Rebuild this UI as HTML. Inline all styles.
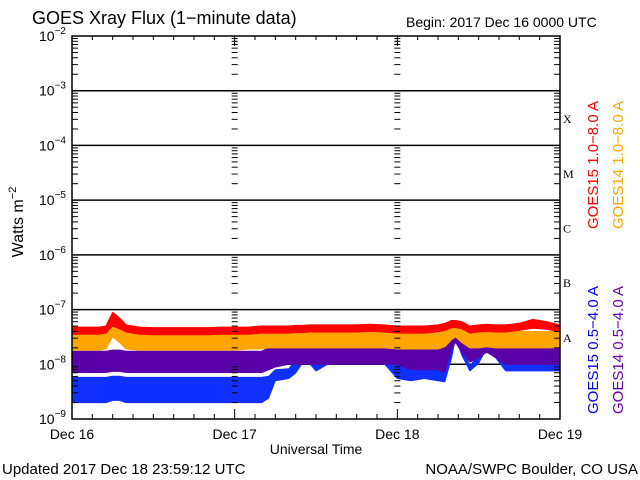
<!DOCTYPE html>
<html><head><meta charset="utf-8">
<style>
html,body{margin:0;padding:0;background:#fff;}
svg{display:block;font-family:"Liberation Sans",sans-serif;}
</style></head>
<body>
<svg id="chart" width="640" height="480" viewBox="0 0 640 480" xmlns="http://www.w3.org/2000/svg">
<rect width="640" height="480" fill="#fff"/>
<text x="32" y="24" font-size="18">GOES Xray Flux (1−minute data)</text>
<text x="406" y="27" font-size="14">Begin:  2017 Dec 16 0000 UTC</text>
<g id="grid"></g>
<g id="series"></g>
<g id="axes"></g>
<text transform="translate(23,222) rotate(-90)" text-anchor="middle" font-size="16">Watts m<tspan dy="-7" font-size="11">−2</tspan></text>
<text x="316" y="454" text-anchor="middle" font-size="14">Universal Time</text>
<text x="2" y="474" font-size="15">Updated 2017 Dec 18 23:59:12 UTC</text>
<text x="638" y="474" text-anchor="end" font-size="15">NOAA/SWPC Boulder, CO USA</text>
<text transform="translate(598,165) rotate(-90)" text-anchor="middle" font-size="15" fill="#ff0000">GOES15 1.0−8.0 A</text>
<text transform="translate(623,165) rotate(-90)" text-anchor="middle" font-size="15" fill="#ffa500">GOES14 1.0−8.0 A</text>
<text transform="translate(598,350) rotate(-90)" text-anchor="middle" font-size="15" fill="#0000ff">GOES15 0.5−4.0 A</text>
<text transform="translate(623,350) rotate(-90)" text-anchor="middle" font-size="15" fill="#6a00aa">GOES14 0.5−4.0 A</text>
</svg>
<script>
const times = [0,2,4,5,6,7,8,10,12,14,16,18,20,22,24,26,28,29,30,32,33,34,35,36,38,40,42,44,46,48,50,52,54,55,56,56.6,57.5,58.7,60,61.2,62.5,64,66,68,70,72];
const redHi = [-7.32,-7.32,-7.32,-7.30,-7.05,-7.15,-7.28,-7.32,-7.33,-7.33,-7.33,-7.33,-7.33,-7.32,-7.32,-7.32,-7.30,-7.30,-7.30,-7.30,-7.29,-7.29,-7.28,-7.28,-7.28,-7.28,-7.28,-7.27,-7.28,-7.30,-7.30,-7.30,-7.28,-7.25,-7.20,-7.20,-7.22,-7.30,-7.28,-7.27,-7.28,-7.28,-7.25,-7.18,-7.22,-7.28];
const redLo = [-7.45,-7.45,-7.45,-7.43,-7.30,-7.35,-7.41,-7.45,-7.46,-7.46,-7.46,-7.46,-7.46,-7.45,-7.45,-7.45,-7.43,-7.43,-7.43,-7.43,-7.42,-7.42,-7.41,-7.41,-7.41,-7.41,-7.41,-7.40,-7.41,-7.43,-7.43,-7.43,-7.41,-7.38,-7.33,-7.33,-7.35,-7.43,-7.41,-7.40,-7.41,-7.41,-7.38,-7.34,-7.36,-7.41];
const orangeHi = [-7.45,-7.45,-7.45,-7.43,-7.12,-7.25,-7.40,-7.45,-7.45,-7.45,-7.45,-7.45,-7.45,-7.45,-7.45,-7.45,-7.45,-7.42,-7.42,-7.42,-7.42,-7.42,-7.42,-7.42,-7.42,-7.42,-7.42,-7.42,-7.42,-7.44,-7.44,-7.44,-7.44,-7.38,-7.27,-7.27,-7.32,-7.42,-7.42,-7.40,-7.42,-7.40,-7.40,-7.40,-7.40,-7.40];
const orangeLo = [-7.74,-7.74,-7.74,-7.72,-7.50,-7.60,-7.72,-7.74,-7.74,-7.74,-7.74,-7.74,-7.74,-7.74,-7.74,-7.72,-7.72,-7.70,-7.70,-7.70,-7.70,-7.70,-7.70,-7.70,-7.70,-7.70,-7.70,-7.70,-7.70,-7.72,-7.72,-7.72,-7.72,-7.68,-7.55,-7.50,-7.60,-7.70,-7.70,-7.68,-7.70,-7.70,-7.70,-7.70,-7.70,-7.70];
const purpleHi = [-7.76,-7.76,-7.76,-7.76,-7.74,-7.74,-7.76,-7.76,-7.76,-7.76,-7.76,-7.76,-7.76,-7.76,-7.76,-7.76,-7.76,-7.70,-7.62,-7.60,-7.60,-7.60,-7.60,-7.60,-7.60,-7.60,-7.60,-7.60,-7.60,-7.62,-7.66,-7.66,-7.66,-7.60,-7.45,-7.42,-7.52,-7.66,-7.60,-7.54,-7.60,-7.68,-7.68,-7.68,-7.68,-7.68];
const purpleLo = [-8.15,-8.15,-8.15,-8.15,-8.13,-8.13,-8.15,-8.15,-8.15,-8.15,-8.15,-8.15,-8.15,-8.15,-8.15,-8.15,-8.15,-8.10,-8.05,-8.00,-8.00,-8.00,-8.00,-8.00,-8.00,-8.00,-8.00,-8.00,-8.00,-8.00,-8.10,-8.10,-8.10,-8.15,-7.70,-7.60,-7.78,-7.96,-7.88,-7.78,-7.88,-8.00,-8.00,-8.00,-8.00,-8.00];
const blueHi = [-8.24,-8.24,-8.24,-8.24,-8.22,-8.22,-8.24,-8.24,-8.24,-8.24,-8.24,-8.24,-8.24,-8.24,-8.24,-8.24,-8.24,-8.22,-8.10,-8.08,-7.92,-7.75,-7.78,-7.98,-7.76,-7.74,-7.78,-7.76,-7.78,-7.84,-7.94,-7.80,-7.84,-8.08,-7.62,-7.40,-7.72,-8.03,-7.83,-7.62,-7.78,-7.97,-7.93,-7.95,-7.93,-7.95];
const blueLo = [-8.70,-8.70,-8.70,-8.70,-8.66,-8.66,-8.70,-8.70,-8.70,-8.70,-8.70,-8.70,-8.70,-8.70,-8.70,-8.70,-8.70,-8.62,-8.30,-8.26,-8.16,-7.98,-7.98,-8.12,-7.98,-7.98,-7.98,-7.98,-7.98,-8.26,-8.30,-8.26,-8.30,-8.32,-7.88,-7.50,-7.83,-8.12,-7.98,-7.70,-7.88,-8.12,-8.12,-8.12,-8.12,-8.12];
const decades = [-2,-3,-4,-5,-6,-7,-8,-9];
const dayLabels = ["Dec 16","Dec 17","Dec 18","Dec 19"];
const classLabels = ["X","M","C","B","A"];

const NS = "http://www.w3.org/2000/svg";
const X0 = 72, X1 = 560, Y0 = 36, Y1 = 419;
function xs(h){ return X0 + (X1 - X0) * h / 72; }
function ys(e){ return Y0 + (-2 - e) * (Y1 - Y0) / 7; }
function mk(tag, attrs, parent){
  const el = document.createElementNS(NS, tag);
  for (const k in attrs) el.setAttribute(k, attrs[k]);
  parent.appendChild(el);
  return el;
}
const grid = document.getElementById('grid');
const axes = document.getElementById('axes');
const series = document.getElementById('series');

decades.forEach(function(d){
  if (d === -2 || d === -9) return;
  const l = mk('line', {x1:X0, x2:X1, y1:ys(d), y2:ys(d), stroke:'#000', 'stroke-width':1.5}, grid);
  
  
});

function band(hi, lo, color, name){
  let pts = [];
  for (let i = 0; i < times.length; i++) pts.push(xs(times[i]).toFixed(1) + ',' + ys(hi[i]).toFixed(1));
  for (let i = times.length - 1; i >= 0; i--) pts.push(xs(times[i]).toFixed(1) + ',' + ys(lo[i]).toFixed(1));
  const p = mk('polygon', {points: pts.join(' '), fill: color, stroke: color, 'stroke-width': 1, 'stroke-linejoin':'round'}, series);
  
  
}
band(blueHi, blueLo, '#1030ff', 'series-goes15-short');
band(purpleHi, purpleLo, '#5a00a8', 'series-goes14-short');
band(orangeHi, orangeLo, '#ffa500', 'series-goes14-long');
band(redHi, redLo, '#ff0000', 'series-goes15-long');

const fr = mk('rect', {x:X0, y:Y0, width:X1-X0, height:Y1-Y0, fill:'none', stroke:'#000', 'stroke-width':1.5}, axes);



decades.forEach(function(d){
  const t = mk('text', {x:66, y:ys(d)+5, 'text-anchor':'end', 'font-size':14}, axes);
  
  
  t.textContent = '10';
  const s = mk('tspan', {dy:-7, 'font-size':10}, t);
  s.textContent = '−' + (-d);
  if (d === -9) return;
  for (let m = 2; m <= 9; m++){
    const y = ys(d - 1 + Math.log10(m));
    [[X0, X0+6],[X1-6, X1],[xs(24)-3, xs(24)+3],[xs(48)-3, xs(48)+3]].forEach(function(seg){
      const tk = mk('line', {x1:seg[0], x2:seg[1], y1:y, y2:y, stroke:'#000', 'stroke-width':1}, axes);
      
      
    });
  }
});
for (let h = 0; h <= 72; h += 3){
  const x = xs(h);
  const major = h % 24 === 0;
  const b = mk('line', {x1:x, x2:x, y1:Y1, y2:Y1-(major?10:5), stroke:'#000', 'stroke-width':1}, axes);
  
  
  const t = mk('line', {x1:x, x2:x, y1:Y0, y2:Y0+(major?10:4), stroke:'#000', 'stroke-width':1}, axes);
  
  
}
dayLabels.forEach(function(lbl, i){
  const t = mk('text', {x:xs(i*24), y:439, 'text-anchor':'middle', 'font-size':14}, axes);
  
  
  t.textContent = lbl;
});
classLabels.forEach(function(c, i){
  const t = mk('text', {x:563, y:ys(-3.5 - i)+5, 'font-size':12, 'font-family':'Liberation Serif, serif'}, axes);
  
  
  t.textContent = c;
});
</script>
</body></html>
